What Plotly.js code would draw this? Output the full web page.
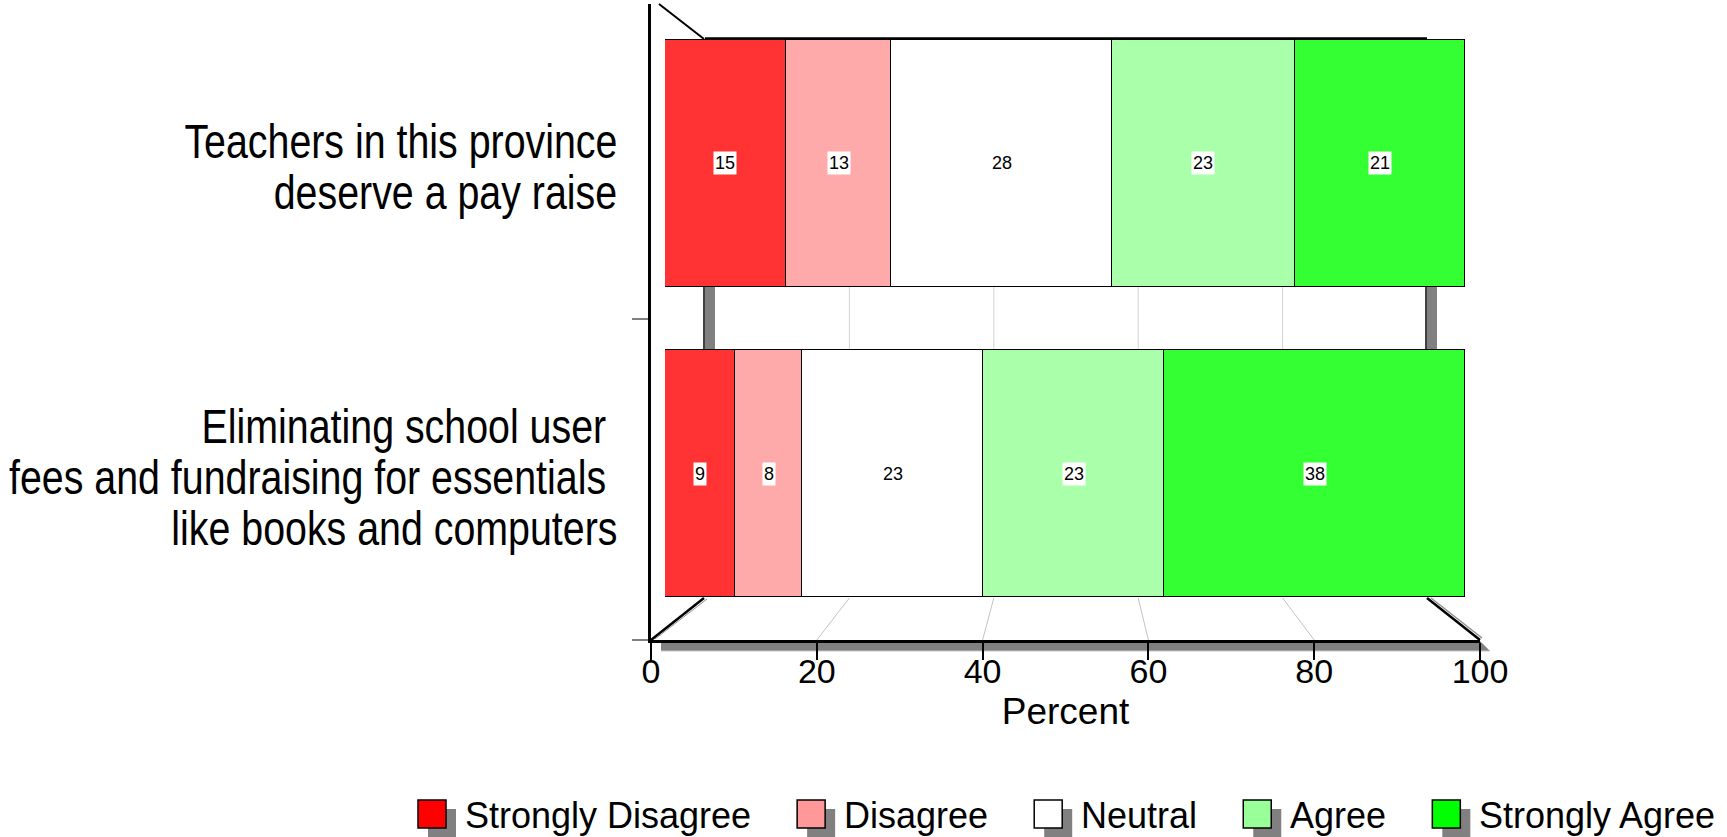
<!DOCTYPE html>
<html>
<head>
<meta charset="utf-8">
<script src="https://cdn.plot.ly/plotly-3.0.1.min.js"></script>
<style>
  html, body { margin: 0; padding: 0; background: #fff; overflow: hidden; }
  #chart { width: 1727px; height: 837px; }
</style>
</head>
<body>
<div id="chart"></div>
<script>
// ---------------- DATA ----------------
const categories = [
  "Eliminating school user fees and fundraising for essentials like books and computers",
  "Teachers in this province deserve a pay raise"
];
const categoryLabelLines = [
  ["Eliminating school user\u00a0", "fees and fundraising for essentials\u00a0", "like books and computers"],
  ["Teachers in this province", "deserve a pay raise"]
];
const responses = ["Strongly Disagree", "Disagree", "Neutral", "Agree", "Strongly Agree"];
const stronglyDisagree = [8.8, 15.1];
const disagree = [8.3, 13.2];
const neutral = [22.7, 27.6];
const agree = [22.6, 22.8];
const stronglyAgree = [37.6, 21.3];
const xTickVals = [0, 20, 40, 60, 80, 100];
const xTitle = "Percent";

// ---------------- STYLE ----------------
const barColors = ["#FF3333", "#FFAAAA", "#FFFFFF", "#AAFFAA", "#33FF33"];
const legendColors = ["#FF0000", "#FF9999", "#FFFFFF", "#99FF99", "#00FF00"];
const W = 1727, H = 837;
const px = x => x / W;
const py = y => 1 - y / H;

// pixel geometry (layout)
const barLeft = 665, barRight = 1465;
const tickLeft = 651, tickRight = 1480;
const backLeft = 705, backRight = 1427;
const axisTop = 4, floorY = 640, floorBackY = 598;
const topBarTop = 40, topBarBot = 287, botBarTop = 349, botBarBot = 598;
const cTop = (topBarTop + topBarBot) / 2, cBot = (botBarTop + botBarBot) / 2;
const unitPx = cBot - cTop;
const yr0 = 0 - (floorY - cBot) / unitPx;
const yr1 = 1 + (cTop - axisTop) / unitPx;
const barWidth = (topBarBot - topBarTop) / unitPx;

const series = [stronglyDisagree, disagree, neutral, agree, stronglyAgree];

const font = '"Liberation Sans", Arial, Helvetica, sans-serif';

const traces = series.map((vals, i) => ({
  type: 'bar',
  orientation: 'h',
  name: responses[i],
  y: categories,
  x: vals,
  width: barWidth,
  marker: { color: barColors[i], line: { color: '#000', width: 1.5 } },
  hoverinfo: 'x+name',
  showlegend: false,
  xaxis: 'x', yaxis: 'y'
}));
// invisible trace to activate the tick axis
traces.push({
  type: 'scatter', mode: 'markers', x: [xTickVals[0], xTickVals[xTickVals.length - 1]], y: [0, 0],
  marker: { opacity: 0 }, hoverinfo: 'skip', showlegend: false, xaxis: 'x2', yaxis: 'y2'
});

// ---------------- SHAPES ----------------
const shapes = [];
function line(x0, y0, x1, y1, color, width, layer) {
  shapes.push({ type: 'line', xref: 'paper', yref: 'paper', x0: px(x0), y0: py(y0), x1: px(x1), y1: py(y1),
    line: { color: color, width: width }, layer: layer || 'below' });
}
function rect(x0, y0, x1, y1, fill, lc, lw, layer) {
  shapes.push({ type: 'rect', xref: 'paper', yref: 'paper', x0: px(x0), y0: py(y0), x1: px(x1), y1: py(y1),
    fillcolor: fill, line: { color: lc || fill, width: lw || 0 }, layer: layer || 'below' });
}
function poly(pts, fill, layer) {
  const d = pts.map((p, k) => (k ? 'L' : 'M') + px(p[0]) + ',' + py(p[1])).join(' ') + ' Z';
  shapes.push({ type: 'path', xref: 'paper', yref: 'paper', path: d, fillcolor: fill, line: { width: 0 }, layer: layer || 'below' });
}
const xMin = xTickVals[0], xMax = xTickVals[xTickVals.length - 1];
const backX = v => backLeft + (v - xMin) / (xMax - xMin) * (backRight - backLeft);
const frontX = v => tickLeft + (v - xMin) / (xMax - xMin) * (tickRight - tickLeft);

// floor shadow
poly([[661, floorY + 1], [tickRight, floorY + 1], [tickRight + 10, floorY + 11], [661, floorY + 11]], '#808080');
line(661, floorY + 11, tickRight + 10, floorY + 11, '#c8c8c8', 1);
// floor
poly([[backLeft, floorBackY], [backRight, floorBackY], [tickRight, floorY], [tickLeft, floorY]], '#ffffff');
// floor grid lines and between-bar grid lines
xTickVals.slice(1, -1).forEach(v => {
  line(backX(v), floorBackY, frontX(v), floorY, '#c4c4c4', 1);
  line(backX(v), topBarBot, backX(v), botBarTop, '#d4d4d4', 1);
});
// floor side edges
line(backLeft - 1, floorBackY, tickLeft, floorY, '#000', 2.5);
line(backLeft + 2, floorBackY + 1, tickLeft + 4, floorY - 1, '#909090', 1);
line(backRight, floorBackY, tickRight, floorY, '#000', 2.5);
line(backRight + 4, floorBackY, tickRight + 2, floorY - 2, '#909090', 1.5);
// pillars between bars
rect(backLeft, topBarBot, backLeft + 10, botBarTop, '#808080');
line(backLeft - 1, topBarBot, backLeft - 1, botBarTop, '#000', 1.5);
rect(backRight, topBarBot, backRight + 10, botBarTop, '#808080');
line(backRight - 1, topBarBot, backRight - 1, botBarTop, '#000', 1.5);
// back top edge and diagonal
line(backLeft, topBarTop - 1.5, backRight, topBarTop - 1.5, '#000', 2.5);
line(tickLeft + 8, axisTop, backLeft - 1, topBarTop - 1, '#000', 2);
// floor-level stub left of axis
line(tickLeft - 16, floorY, tickLeft, floorY, '#808080', 1.5);

// ---------------- ANNOTATIONS ----------------
const annotations = [];
// segment value labels
categories.forEach((cat, ci) => {
  let cum = 0;
  series.forEach(vals => {
    const v = vals[ci];
    annotations.push({
      xref: 'x', yref: 'y', x: cum + v / 2, y: cat, text: String(Math.round(v)),
      showarrow: false, bgcolor: '#ffffff', borderpad: 1,
      font: { family: font, size: 18, color: '#000' }, xanchor: 'center', yanchor: 'middle'
    });
    cum += v;
  });
});
// category labels (one annotation per line, right aligned, horizontally condensed after render)
const labelRight = 618, lineGap = 51, labelNudge = -4, narrowScale = 0.82;
const catLabelIdx = [];
categories.forEach((cat, ci) => {
  const lines = categoryLabelLines[ci];
  lines.forEach((t, li) => {
    catLabelIdx.push(annotations.length);
    annotations.push({
      xref: 'paper', yref: 'y', x: px(labelRight), y: cat, text: t, showarrow: false,
      xanchor: 'right', yanchor: 'middle', align: 'right', borderpad: 0,
      yshift: ((lines.length - 1) / 2 - li) * lineGap + labelNudge,
      font: { family: font, size: 48, color: '#000' }
    });
  });
});
// custom legend with drop-shadow swatches
const legFontSize = 36;
const ctx = document.createElement('canvas').getContext('2d');
ctx.font = legFontSize + 'px "Liberation Sans", Arial, sans-serif';
let lx = 418;
const legBoxTop = 800, legBox = 28, legY = 815;
responses.forEach((r, i) => {
  rect(lx + 10, legBoxTop + 9, lx + 10 + legBox, legBoxTop + 9 + legBox, '#808080', null, 0, 'above');
  rect(lx, legBoxTop, lx + legBox, legBoxTop + legBox, legendColors[i], '#000', 1.5, 'above');
  const tx = lx + 47;
  annotations.push({
    xref: 'paper', yref: 'paper', x: px(tx), y: py(legY), text: r, showarrow: false,
    xanchor: 'left', yanchor: 'middle', xshift: -2,
    font: { family: font, size: legFontSize, color: '#000' }
  });
  lx = tx + ctx.measureText(r).width + 46;
});

const layout = {
  width: W, height: H, autosize: false,
  margin: { l: 0, r: 0, t: 0, b: 0, pad: 0 },
  paper_bgcolor: '#ffffff', plot_bgcolor: 'rgba(0,0,0,0)',
  barmode: 'stack', bargap: 0,
  showlegend: false,
  font: { family: font, color: '#000' },
  xaxis: {
    domain: [px(barLeft), px(barRight)], range: [xMin, xMax],
    anchor: 'y', showgrid: false, zeroline: false, showline: false, showticklabels: false, ticks: '', fixedrange: true
  },
  yaxis: {
    domain: [py(floorY), py(axisTop)], range: [yr0, yr1], type: 'category', categoryorder: 'array', categoryarray: categories,
    anchor: 'x', showgrid: false, zeroline: false, showline: false, showticklabels: false, ticks: '', fixedrange: true
  },
  xaxis2: {
    domain: [px(tickLeft), px(tickRight)], range: [xMin, xMax],
    anchor: 'y2', tickmode: 'array', tickvals: xTickVals, ticktext: xTickVals.map(String),
    ticks: 'outside', ticklen: 17, tickwidth: 1.5, tickcolor: '#000', ticklabelstandoff: -18,
    showline: true, linewidth: 3, linecolor: '#000', showgrid: false, zeroline: false,
    tickfont: { family: font, size: 34, color: '#000' },
    title: { text: xTitle, font: { family: font, size: 37, color: '#000' }, standoff: 10 },
    fixedrange: true
  },
  yaxis2: {
    domain: [py(floorY), py(axisTop)], range: [yr0, yr1], anchor: 'x2',
    tickmode: 'array', tickvals: [yr0, 0.5], ticks: 'outside', ticklen: 16, tickwidth: 1.5, tickcolor: '#808080',
    showline: true, linewidth: 3, linecolor: '#000', showgrid: false, zeroline: false, showticklabels: false,
    fixedrange: true
  },
  shapes: shapes,
  annotations: annotations
};

function condenseLabels(gd) {
  catLabelIdx.forEach(i => {
    const g = gd.querySelector('g.annotation[data-index="' + i + '"]');
    if (g) g.setAttribute('transform',
      'translate(' + labelRight + ',0) scale(' + narrowScale + ',1) translate(' + (-labelRight) + ',0)');
  });
}

Plotly.newPlot('chart', traces, layout, { displayModeBar: false, responsive: false }).then(gd => {
  condenseLabels(gd);
  gd.on('plotly_afterplot', () => condenseLabels(gd));
});
</script>
</body>
</html>
